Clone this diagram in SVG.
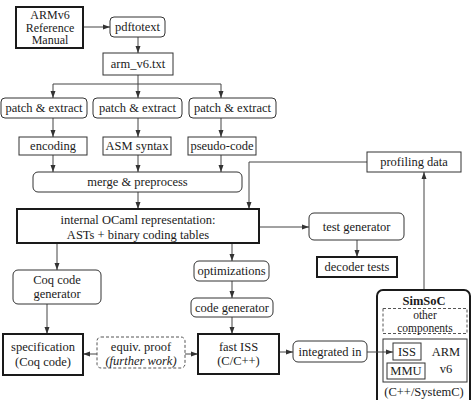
<svg xmlns="http://www.w3.org/2000/svg" width="471" height="400" viewBox="0 0 471 400" font-family="'Liberation Serif', 'Times New Roman', 'DejaVu Serif', serif">
<style>
text{font-family:'Liberation Serif','Times New Roman','DejaVu Serif',serif;font-size:12.5px;fill:#1a1a1a;text-anchor:middle;dominant-baseline:central}
.b{fill:#fff;stroke:#333;stroke-width:1}
.t{fill:#fff;stroke:#1a1a1a;stroke-width:2}
.d{fill:#fff;stroke:#555;stroke-width:1;stroke-dasharray:3,2}
.c{fill:none;stroke:#444;stroke-width:1}
.bold{font-weight:bold}
.it{font-style:italic}
.s{font-size:12px}
.xs{font-size:11.5px}
</style>
<defs>
<marker id="ah" markerWidth="7" markerHeight="6" refX="7" refY="3" orient="auto" markerUnits="userSpaceOnUse">
<path d="M0,0.5 L7,3 L0,5.5 Z" fill="#333"/>
</marker>
</defs>
<g id="connectors" class="c">
<path d="M83,27 H110" marker-end="url(#ah)"/>
<path d="M138,37 V53" marker-end="url(#ah)"/>
<path d="M138,75 V98" marker-end="url(#ah)"/>
<path d="M53,84 H221"/>
<path d="M53,84 V98" marker-end="url(#ah)"/>
<path d="M221,84 V98" marker-end="url(#ah)"/>
<path d="M53,118 V137" marker-end="url(#ah)"/>
<path d="M138,118 V137" marker-end="url(#ah)"/>
<path d="M221,118 V137" marker-end="url(#ah)"/>
<path d="M53,155 V172" marker-end="url(#ah)"/>
<path d="M138,155 V172" marker-end="url(#ah)"/>
<path d="M221,155 V172" marker-end="url(#ah)"/>
<path d="M138,192 V209" marker-end="url(#ah)"/>
<path d="M367,162 H249 V209" marker-end="url(#ah)"/>
<path d="M259,227 H309" marker-end="url(#ah)"/>
<path d="M357,240 V257" marker-end="url(#ah)"/>
<path d="M57,243 V270" marker-end="url(#ah)"/>
<path d="M232,243 V261" marker-end="url(#ah)"/>
<path d="M47,304 V334" marker-end="url(#ah)"/>
<path d="M232,281 V298" marker-end="url(#ah)"/>
<path d="M232,317 V334" marker-end="url(#ah)"/>
<path d="M97,354 H83" marker-end="url(#ah)"/>
<path d="M185,354 H198" marker-end="url(#ah)"/>
<path d="M279,352 H293" marker-end="url(#ah)"/>
<path d="M424,290 V172" marker-end="url(#ah)"/>
</g>
<g id="armv6"><rect class="t" x="16" y="7" width="67" height="41"/><text class="s" x="50" y="14.5">ARMv6</text><text class="s" x="50" y="27.5">Reference</text><text class="s" x="50" y="40">Manual</text></g>
<g id="pdftotext"><rect class="b" x="110" y="17" width="55" height="20" rx="4"/><text x="137.5" y="27">pdftotext</text></g>
<g id="armtxt"><rect class="b" x="103" y="53" width="70" height="22"/><text x="138" y="64">arm_v6.txt</text></g>
<g id="patch1"><rect class="b" x="1" y="98" width="86" height="20" rx="4"/><text x="44" y="108">patch &amp; extract</text></g>
<g id="patch2"><rect class="b" x="93" y="98" width="89" height="20" rx="4"/><text x="137.5" y="108">patch &amp; extract</text></g>
<g id="patch3"><rect class="b" x="189" y="98" width="87" height="20" rx="4"/><text x="232.5" y="108">patch &amp; extract</text></g>
<g id="encoding"><rect class="b" x="19" y="137" width="68" height="18"/><text x="53" y="146">encoding</text></g>
<g id="asm"><rect class="b" x="103" y="137" width="68" height="18"/><text x="137" y="146">ASM syntax</text></g>
<g id="pseudo"><rect class="b" x="188" y="137" width="68" height="18"/><text x="222" y="146">pseudo-code</text></g>
<g id="merge"><rect class="b" x="33" y="172" width="209" height="20" rx="5"/><text x="137.5" y="182">merge &amp; preprocess</text></g>
<g id="internal"><rect class="t" x="17" y="209" width="242" height="34"/><text x="138" y="220">internal OCaml representation:</text><text x="138" y="234.5">ASTs + binary coding tables</text></g>
<g id="profiling"><rect class="b" x="367" y="152" width="94" height="20"/><text x="414" y="162">profiling data</text></g>
<g id="testgen"><rect class="b" x="309" y="213" width="95" height="27" rx="5"/><text x="356.5" y="226.5">test generator</text></g>
<g id="decoder"><rect class="t" x="317" y="257" width="80" height="20"/><text x="357" y="267">decoder tests</text></g>
<g id="coqgen"><rect class="b" x="13" y="270" width="88" height="34" rx="5"/><text x="57" y="280">Coq code</text><text x="57" y="294">generator</text></g>
<g id="optim"><rect class="b" x="194" y="261" width="75" height="20" rx="5"/><text x="231.5" y="271">optimizations</text></g>
<g id="codegen"><rect class="b" x="191" y="298" width="82" height="19" rx="5"/><text x="232" y="307.5">code generator</text></g>
<g id="spec"><rect class="t" x="3" y="334" width="80" height="41"/><text x="43" y="347">specification</text><text x="43" y="361.5">(Coq code)</text></g>
<g id="equiv"><rect class="d" x="97" y="337" width="88" height="31" rx="4"/><text x="141" y="346.5">equiv. proof</text><text class="it" x="141" y="360.5">(further work)</text></g>
<g id="fastiss"><rect class="t" x="198" y="334" width="81" height="40"/><text x="238.5" y="347">fast ISS</text><text x="238.5" y="361">(C/C++)</text></g>
<g id="integrated"><rect class="b" x="293" y="341" width="74" height="21" rx="5"/><text x="330" y="351.5">integrated in</text></g>
<g id="simsoc">
<rect class="t" x="377" y="290" width="93" height="125" rx="6"/>
<text class="bold" x="424" y="300.5">SimSoC</text>
<rect class="d" x="383" y="308.5" width="84" height="25"/>
<text class="xs" x="425" y="314.5">other</text><text class="xs" x="425" y="327.5">components</text>
<rect class="b" x="383" y="339" width="84" height="43"/>
<rect class="b" x="393" y="343" width="28" height="17"/><text x="407" y="351.5">ISS</text>
<rect class="b" x="387" y="363" width="38" height="16"/><text x="406" y="371">MMU</text>
<text x="446" y="352">ARM</text><text x="446" y="369">v6</text>
<text x="424" y="392">(C++/SystemC)</text>
</g>
<g id="conn-iss" class="c"><path d="M367,352 H393" marker-end="url(#ah)"/></g>
</svg>
